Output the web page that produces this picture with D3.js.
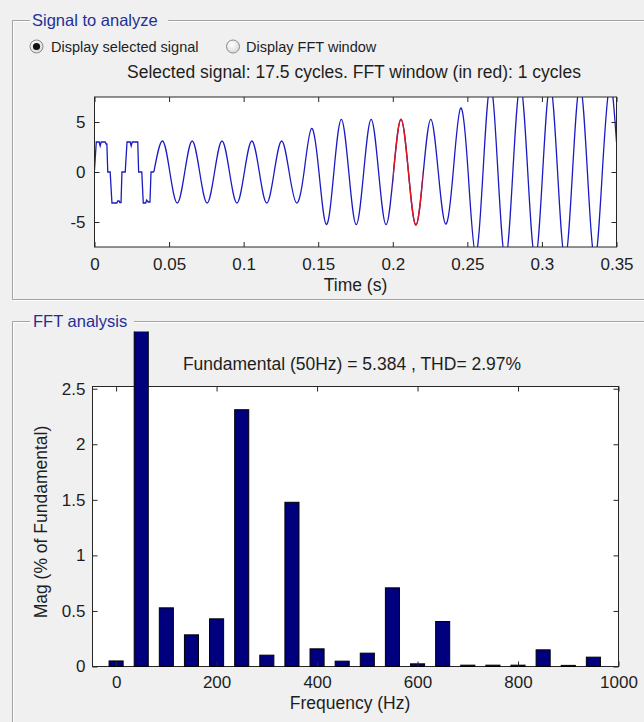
<!DOCTYPE html>
<html><head><meta charset="utf-8">
<script src="https://cdn.jsdelivr.net/npm/d3@7"></script>
<style>
body{margin:0;background:#f0f0f0;}
svg{display:block;font-family:"Liberation Sans",Arial,Helvetica,sans-serif;}
</style></head><body>
<svg id="c" width="644" height="722"></svg>
<script>
// ---------------- data ----------------
// stepped (quasi-square) start of the signal: [time s, value]
const stepSignal = [
  [0.0000, 0.2], [0.0012, 3.0], [0.0031, 3.0], [0.0038, 2.6], [0.0045, 3.0],
  [0.0072, 3.0], [0.0078, 2.8], [0.0083, 2.8], [0.0089, 0.0], [0.0105, 0.0],
  [0.0117, -3.1], [0.0150, -3.1], [0.0156, -2.9], [0.0165, -2.9], [0.0170, -3.05],
  [0.0178, -3.05], [0.0184, 0.0], [0.0206, 0.0], [0.0218, 3.0], [0.0239, 3.0],
  [0.0246, 2.6], [0.0253, 3.0], [0.0290, 3.0], [0.0296, 0.0], [0.0317, 0.0],
  [0.0327, -3.1], [0.0343, -3.1], [0.0350, -2.8], [0.0360, -3.0], [0.0372, -3.0],
  [0.0379, 0.0], [0.0398, 0.0]
];
// sinusoidal part: zero crossings and peaks/troughs [time s, value]
const sineSignal = [
  [0.0398, 0], [0.0455, 3.1], [0.0505, 0], [0.0555, -3.1],
  [0.0605, 0], [0.0655, 3.1], [0.0705, 0], [0.0755, -3.1],
  [0.0805, 0], [0.0855, 3.1], [0.0905, 0], [0.0955, -3.1],
  [0.1005, 0], [0.1055, 3.1], [0.1105, 0], [0.1155, -3.1],
  [0.1205, 0], [0.1255, 3.1], [0.1305, 0], [0.1355, -3.1],
  [0.1405, 0], [0.1455, 4.35], [0.1505, 0], [0.1555, -5.26],
  [0.1605, 0], [0.1655, 5.27], [0.1705, 0], [0.1755, -5.26],
  [0.1805, 0], [0.1855, 5.27], [0.1905, 0], [0.1955, -5.26],
  [0.2005, 0], [0.2055, 5.27], [0.2105, 0], [0.2155, -5.3],
  [0.2205, 0], [0.2255, 5.27], [0.2305, 0], [0.2355, -5.2],
  [0.2405, 0], [0.2455, 6.4], [0.2505, 0], [0.2555, -8.2],
  [0.2605, 0], [0.2655, 8.7], [0.2705, 0], [0.2755, -8.7],
  [0.2805, 0], [0.2855, 8.7], [0.2905, 0], [0.2955, -8.7],
  [0.3005, 0], [0.3055, 8.7], [0.3105, 0], [0.3155, -8.7],
  [0.3205, 0], [0.3255, 8.7], [0.3305, 0], [0.3355, -8.7],
  [0.3405, 0], [0.3455, 8.7], [0.3500, 3.0]
];
const fftWindow = [0.2, 0.22];             // red part, seconds
const timeTicks = [0, 0.05, 0.1, 0.15, 0.2, 0.25, 0.3, 0.35];
const signalTicks = [-5, 0, 5];

const harmonicFreqs = [0, 50, 100, 150, 200, 250, 300, 350, 400, 450,
                       500, 550, 600, 650, 700, 750, 800, 850, 900, 950];
const harmonicMags  = [0.05, 100, 0.528, 0.285, 0.429, 2.311, 0.102, 1.478, 0.159, 0.048,
                       0.12, 0.708, 0.024, 0.405, 0.012, 0.012, 0.012, 0.15, 0.01, 0.084];
const freqTicks = [0, 200, 400, 600, 800, 1000];
const magTicks = [0, 0.5, 1, 1.5, 2, 2.5];

const panelTitles = ["Signal to analyze", "FFT analysis"];
const radioLabels = ["Display selected signal", "Display FFT window"];
const signalTitle = "Selected signal: 17.5 cycles. FFT window (in red): 1 cycles";
const fftTitle = "Fundamental (50Hz) = 5.384 , THD= 2.97%";
const timeLabel = "Time (s)";
const freqLabel = "Frequency (Hz)";
const magLabel = "Mag (% of Fundamental)";

// ---------------- drawing ----------------
const svg = d3.select("#c");
const TXT = "#1e1e1e";
const fmt = d => String(d);

// etched group-box borders
function etched(d) {
  svg.append("path").attr("d", d).attr("fill", "none").attr("stroke", "#ffffff")
     .attr("transform", "translate(1,1)");
  svg.append("path").attr("d", d).attr("fill", "none").attr("stroke", "#a3a3a3");
}
etched("M30,20.5H12.5V299.5H644M168,20.5H644");
etched("M30,321.5H12.5V722M134,321.5H644");

svg.append("text").attr("x", 32).attr("y", 26).attr("font-size", 16.5)
   .attr("fill", "#1f2f96").text(panelTitles[0]);
svg.append("text").attr("x", 33).attr("y", 327).attr("font-size", 16.5)
   .attr("fill", "#1f2f96").text(panelTitles[1]);

// radio buttons
const radios = [{cx: 36.5, tx: 51, on: true}, {cx: 233, tx: 246, on: false}];
const grad = svg.append("defs").append("radialGradient").attr("id", "rg")
  .attr("cx", "40%").attr("cy", "35%").attr("r", "70%");
grad.append("stop").attr("offset", "0%").attr("stop-color", "#ffffff");
grad.append("stop").attr("offset", "100%").attr("stop-color", "#d8d8d8");
radios.forEach((r, i) => {
  svg.append("circle").attr("cx", r.cx).attr("cy", 46.5).attr("r", 6.5)
     .attr("fill", "url(#rg)").attr("stroke", "#8a8a8a");
  if (r.on) svg.append("circle").attr("cx", r.cx).attr("cy", 46.5).attr("r", 3.6).attr("fill", "#111");
  svg.append("text").attr("x", r.tx).attr("y", 51.5).attr("font-size", 14.5)
     .attr("fill", TXT).text(radioLabels[i]);
});

function styleAxis(g, showText, fs) {
  g.select(".domain").remove();
  g.selectAll(".tick line").attr("stroke", "#262626");
  if (!showText) g.selectAll(".tick text").remove();
  else g.selectAll(".tick text").attr("font-size", fs).attr("fill", TXT)
        .attr("font-family", '"Liberation Sans",Arial,sans-serif');
}

// ---------- top: signal plot ----------
const sx = d3.scaleLinear().domain([0, 0.35]).range([94.5, 616.5]);
const sy = d3.scaleLinear().domain([-7.5, 7.5]).range([247, 97]);
const defs = svg.select("defs");
defs.append("clipPath").attr("id", "sclip").append("rect")
  .attr("x", sx(0)).attr("y", sy(7.5)).attr("width", sx(0.35) - sx(0)).attr("height", sy(-7.5) - sy(7.5));
defs.append("clipPath").attr("id", "redclip").append("rect")
  .attr("x", sx(fftWindow[0])).attr("y", sy(7.5))
  .attr("width", sx(fftWindow[1]) - sx(fftWindow[0])).attr("height", sy(-7.5) - sy(7.5));

svg.append("rect").attr("x", sx(0)).attr("y", sy(7.5))
  .attr("width", sx(0.35) - sx(0)).attr("height", sy(-7.5) - sy(7.5)).attr("fill", "#fff");

const stepLine = d3.line().x(d => sx(d[0])).y(d => sy(d[1]));
const sineLine = d3.line().x(d => sx(d[0])).y(d => sy(d[1])).curve(d3.curveNatural);
const sg = svg.append("g").attr("clip-path", "url(#sclip)");
sg.append("path").attr("d", stepLine(stepSignal)).attr("fill", "none")
  .attr("stroke", "#1b1bc4").attr("stroke-width", 1.3);
sg.append("path").attr("d", sineLine(sineSignal)).attr("fill", "none")
  .attr("stroke", "#1b1bc4").attr("stroke-width", 1.3);
sg.append("g").attr("clip-path", "url(#redclip)").append("path")
  .attr("d", sineLine(sineSignal)).attr("fill", "none")
  .attr("stroke", "#e01515").attr("stroke-width", 1.4);

svg.append("rect").attr("x", sx(0)).attr("y", sy(7.5))
  .attr("width", sx(0.35) - sx(0)).attr("height", sy(-7.5) - sy(7.5))
  .attr("fill", "none").attr("stroke", "#262626");

svg.append("g").attr("transform", `translate(0,${sy(-7.5)})`)
  .call(d3.axisBottom(sx).tickValues(timeTicks).tickFormat(fmt).tickSizeInner(-5).tickSizeOuter(0).tickPadding(11))
  .call(g => styleAxis(g, true, 17));
svg.append("g").attr("transform", `translate(0,${sy(7.5)})`)
  .call(d3.axisTop(sx).tickValues(timeTicks).tickSizeInner(-5).tickSizeOuter(0))
  .call(g => styleAxis(g, false));
svg.append("g").attr("transform", `translate(${sx(0)},0)`)
  .call(d3.axisLeft(sy).tickValues(signalTicks).tickFormat(fmt).tickSizeInner(-5).tickSizeOuter(0).tickPadding(9))
  .call(g => styleAxis(g, true, 17));
svg.append("g").attr("transform", `translate(${sx(0.35)},0)`)
  .call(d3.axisRight(sy).tickValues(signalTicks).tickSizeInner(-5).tickSizeOuter(0))
  .call(g => styleAxis(g, false));

svg.append("text").attr("x", 354).attr("y", 77.5).attr("text-anchor", "middle")
  .attr("font-size", 17.5).attr("fill", TXT).text(signalTitle);
svg.append("text").attr("x", (sx(0) + sx(0.35)) / 2).attr("y", 291).attr("text-anchor", "middle")
  .attr("font-size", 17.5).attr("fill", TXT).text(timeLabel);

// ---------- bottom: FFT bars ----------
const fx = d3.scaleLinear().domain([-47, 1000]).range([92.5, 618.5]);
const fy = d3.scaleLinear().domain([0, 2.52]).range([666.5, 386.5]);
const barHalf = 14; // Hz
defs.append("clipPath").attr("id", "fclip").append("rect")
  .attr("x", fx(-47) - 1).attr("y", 331.5).attr("width", fx(1000) - fx(-47) + 2).attr("height", fy(0) - 331.5 + 1);

svg.append("rect").attr("x", fx(-47)).attr("y", fy(2.52))
  .attr("width", fx(1000) - fx(-47)).attr("height", fy(0) - fy(2.52)).attr("fill", "#fff");
svg.append("rect").attr("x", fx(-47)).attr("y", fy(2.52))
  .attr("width", fx(1000) - fx(-47)).attr("height", fy(0) - fy(2.52))
  .attr("fill", "none").attr("stroke", "#262626");

svg.append("g").attr("clip-path", "url(#fclip)")
  .selectAll("rect").data(harmonicFreqs.map((f, i) => [f, harmonicMags[i]])).join("rect")
  .attr("x", d => fx(d[0] - barHalf)).attr("width", d => fx(d[0] + barHalf) - fx(d[0] - barHalf))
  .attr("y", d => fy(d[1])).attr("height", d => fy(0) - fy(d[1]))
  .attr("fill", "#00007f").attr("stroke", "#000").attr("stroke-width", 1);

svg.append("g").attr("transform", `translate(0,${fy(0)})`)
  .call(d3.axisBottom(fx).tickValues(freqTicks).tickFormat(fmt).tickSizeInner(-5).tickSizeOuter(0).tickPadding(9))
  .call(g => styleAxis(g, true, 17));
svg.append("g").attr("transform", `translate(0,${fy(2.52)})`)
  .call(d3.axisTop(fx).tickValues(freqTicks).tickSizeInner(-5).tickSizeOuter(0))
  .call(g => styleAxis(g, false));
svg.append("g").attr("transform", `translate(${fx(-47)},0)`)
  .call(d3.axisLeft(fy).tickValues(magTicks).tickFormat(fmt).tickSizeInner(-5).tickSizeOuter(0).tickPadding(7))
  .call(g => styleAxis(g, true, 17));
svg.append("g").attr("transform", `translate(${fx(1000)},0)`)
  .call(d3.axisRight(fy).tickValues(magTicks).tickSizeInner(-5).tickSizeOuter(0))
  .call(g => styleAxis(g, false));

svg.append("text").attr("x", 352).attr("y", 370).attr("text-anchor", "middle")
  .attr("font-size", 17.5).attr("fill", TXT).text(fftTitle);
svg.append("text").attr("x", 350).attr("y", 709).attr("text-anchor", "middle")
  .attr("font-size", 17.5).attr("fill", TXT).text(freqLabel);
svg.append("text").attr("transform", "translate(47,522) rotate(-90)").attr("text-anchor", "middle")
  .attr("font-size", 17.5).attr("fill", TXT).text(magLabel);
</script>
</body></html>
